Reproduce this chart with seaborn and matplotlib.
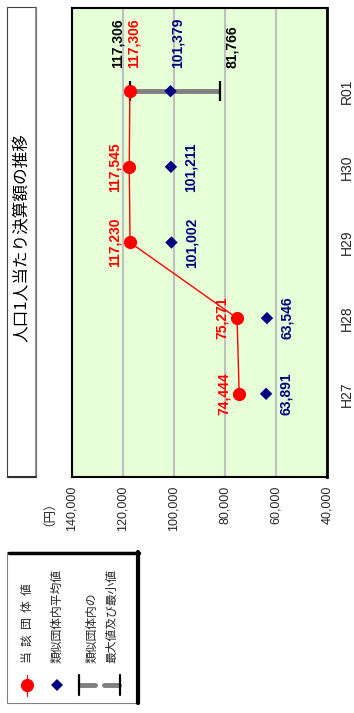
import numpy as np
import pandas as pd
import matplotlib
matplotlib.use("Agg")
import matplotlib.pyplot as plt
from matplotlib.patches import Rectangle
from matplotlib.lines import Line2D
import seaborn as sns

# ---- data -------------------------------------------------------------
years = ["H27", "H28", "H29", "H30", "R01"]
own_values = [74444, 75271, 117230, 117545, 117306]
group_avg = [63891, 63546, 101002, 101211, 101379]
group_max = [np.nan, np.nan, np.nan, np.nan, 117306]
group_min = [np.nan, np.nan, np.nan, np.nan, 81766]
value_ticks = [140000, 120000, 100000, 80000, 60000, 40000]

title = "人口1人当たり決算額の推移"
unit_label = "（円）"
legend_own = "当  該  団  体  値"
legend_avg = "類似団体内平均値"
legend_rng = ["類似団体内の", "最大値及び最小値"]

# ---- style ------------------------------------------------------------
sns.set_style("white")
plt.rcParams["font.family"] = ["Liberation Sans", "Noto Sans CJK JP", "DejaVu Sans"]
JP = ["Noto Sans CJK JP", "DejaVu Sans"]

RED = "#FF0000"
NAVY = "#000080"
GRID = "#C0C0C0"
BAR = "#808080"
BG = "#E6FFD6"

W, H = 354, 713
fig = plt.figure(figsize=(W / 100, H / 100), dpi=100)
fig.patch.set_facecolor("white")


def fx(px):
    return px / W


def fy(py):
    return 1 - py / H


# ---- main plot (rotated layout: values run right-to-left, years bottom-to-top)
ax = fig.add_axes([fx(72), fy(477), fx(327) - fx(72), fy(8) - fy(477)])
ax.set_facecolor(BG)

pos = np.arange(len(years))
df = pd.DataFrame({
    "year": years,
    "pos": pos,
    "own": own_values,
    "avg": group_avg,
    "max": group_max,
    "min": group_min,
})

ax.set_xlim(140000, 40000)
ax.set_ylim(-1.1, len(years) - 1 + 1.1)
ax.set_xticks(value_ticks)
ax.set_xticklabels([f"{v:,}" for v in value_ticks], rotation=90, fontsize=9)
ax.grid(axis="x", color=GRID, lw=1.5)
ax.grid(axis="y", visible=False)
ax.set_axisbelow(True)
ax.set_yticks(pos)
ax.set_yticklabels(years, rotation=90, fontsize=10, va="center")
ax.yaxis.tick_right()
ax.tick_params(axis="both", length=0)
ax.tick_params(axis="x", pad=6)
ax.tick_params(axis="y", pad=9)
for side, sp in ax.spines.items():
    sp.set_visible(True)
    sp.set_color("black")
    sp.set_linewidth(2.0 if side == "right" else 1.5)

# range bar (min-max within similar groups)
rng = df.dropna(subset=["max", "min"])
ax.hlines(rng["pos"], rng["min"], rng["max"], color=BAR, lw=3.5, zorder=2)
caps = pd.concat([rng[["pos", "max"]].rename(columns={"max": "v"}),
                  rng[["pos", "min"]].rename(columns={"min": "v"})])
ax.plot(caps["v"], caps["pos"], linestyle="none", marker="|",
        markersize=14, markeredgewidth=1.6, color="black", zorder=2.5)

# own values: red line with circles
sns.lineplot(data=df, x="own", y="pos", sort=False, estimator=None,
             color=RED, lw=1.0, marker="o", markersize=9.5,
             markeredgewidth=0, ax=ax, zorder=3)

# group averages: navy diamonds
sns.scatterplot(data=df, x="avg", y="pos", marker="D", s=40,
                color=NAVY, edgecolor="none", ax=ax, zorder=4)
ax.set_xlabel("")
ax.set_ylabel("")


def label(x, y, text, color, dx, dy=0, va="center"):
    ax.annotate(text, (x, y), xytext=(dx, dy), textcoords="offset pixels",
                rotation=90, ha="center", va=va, color=color,
                fontsize=10, fontweight="bold", zorder=6)


last = len(years) - 1
for i, row in df.iterrows():
    if i == last:
        continue
    label(row["own"], row["pos"], f"{row['own']:,}", RED, -15)
    label(row["avg"], row["pos"], f"{row['avg']:,}", NAVY, 20)

r = df.iloc[last]
label(r["max"], r["pos"], f"{int(r['max']):,}", "black", -12, 23, "bottom")
label(r["own"], r["pos"], f"{r['own']:,}", RED, 4, 23, "bottom")
label(r["avg"], r["pos"], f"{r['avg']:,}", NAVY, 7, 23, "bottom")
label(r["min"], r["pos"], f"{int(r['min']):,}", "black", 12, 23, "bottom")

# ---- overlay in pixel units for title box, unit and legend ----------
ov = fig.add_axes([0, 0, 1, 1], zorder=10)
ov.set_xlim(0, W)
ov.set_ylim(H, 0)
ov.set_axis_off()

# title box
ov.add_patch(Rectangle((7, 7), 29, 470, facecolor="white", edgecolor="#404040", lw=0.8))
ov.add_line(Line2D([36, 36], [8, 477], color="#808080", lw=1.2))
ov.add_line(Line2D([8, 36], [477, 477], color="#303030", lw=1.5))
ov.text(22, 238, title, rotation=90, ha="center", va="center",
        fontsize=12, family=JP, color="black")

# unit
fig.text(fx(43), fy(507), unit_label, rotation=90, ha="center", va="center",
         fontsize=9, family=JP)

# legend box
ov.add_patch(Rectangle((7, 552), 132, 151, facecolor="white", edgecolor="#808080", lw=0.8))
ov.add_line(Line2D([9, 139], [553, 553], color="black", lw=2.5))
ov.add_line(Line2D([138, 138], [552, 703], color="black", lw=3))

# legend handles
ov.add_line(Line2D([27, 27], [675, 696], color=RED, lw=0.8))
ov.add_line(Line2D([27], [685], marker="o", markersize=9.5, color=RED,
                   markeredgewidth=0, linestyle="none"))
ov.add_line(Line2D([57], [685], marker="D", markersize=6.3, color=NAVY,
                   markeredgewidth=0, linestyle="none"))
ov.add_line(Line2D([80, 95], [685, 685], color=BAR, lw=3.5))
ov.add_line(Line2D([104, 119], [685, 685], color=BAR, lw=3.5))
ov.add_line(Line2D([79, 79], [675, 695], color="black", lw=1.6))
ov.add_line(Line2D([120, 120], [675, 695], color="black", lw=1.6))

# legend texts
ov.text(27.5, 663, legend_own, rotation=90, ha="center", va="bottom",
        fontsize=8.5, family=JP)
ov.text(57, 663, legend_avg, rotation=90, ha="center", va="bottom",
        fontsize=8.5, family=JP)
ov.text(91.5, 663, legend_rng[0], rotation=90, ha="center", va="bottom",
        fontsize=8.5, family=JP)
ov.text(112, 663, legend_rng[1], rotation=90, ha="center", va="bottom",
        fontsize=8.5, family=JP)

fig.savefig("out.png", dpi=100)
